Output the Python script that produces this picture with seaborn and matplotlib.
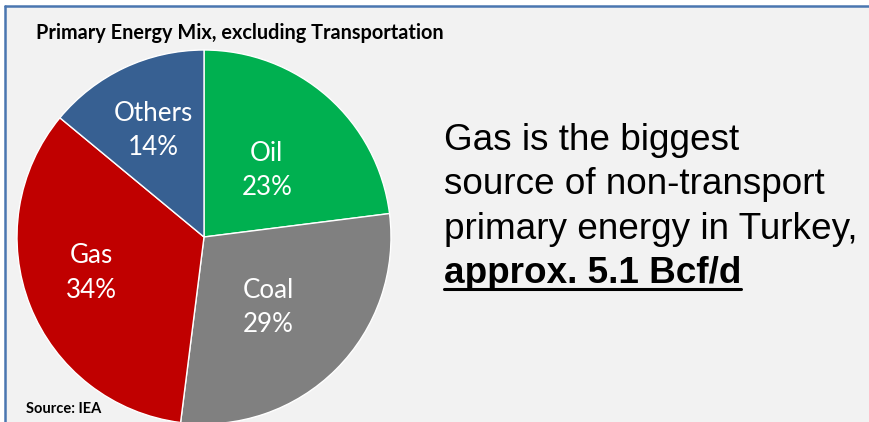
import numpy as np
import matplotlib
matplotlib.use("Agg")
import matplotlib.pyplot as plt
import seaborn as sns
from matplotlib.patches import Rectangle
from matplotlib.lines import Line2D

# Primary energy mix (excluding transportation), share in percent
sources = ["Oil", "Coal", "Gas", "Others"]
shares = [23, 29, 34, 14]
colors = ["#00b050", "#808080", "#c00000", "#376092"]
# label placement: fraction of the radius and a small angular nudge (degrees)
label_radius = [0.49, 0.51, 0.63, 0.63]
label_nudge = [-1.8, -2.8, -3.8, 0.0]

title = "Primary Energy Mix, excluding Transportation"
source_note = "Source: IEA"
callout_lines = ["Gas is the biggest", "source of non-transport",
                 "primary energy in Turkey,"]
callout_bold = "approx. 5.1 Bcf/d"

sns.set_theme(style="white")
plt.rcParams["font.family"] = ["Lato", "DejaVu Sans"]

W, H = 869, 422
fig = plt.figure(figsize=(W / 100, H / 100), dpi=100, facecolor="white")


def fx(px):
    return px / W


def fy(py):
    return 1 - py / H


# panel background with a blue frame on top and left
fig.add_artist(Rectangle((fx(5), fy(440)), fx(900), 434 / H,
                         transform=fig.transFigure, facecolor="#f2f2f2",
                         edgecolor="none", zorder=0))
fig.add_artist(Line2D([fx(5), fx(5)], [fy(6), fy(430)], transform=fig.transFigure,
                      color="#4a76b0", lw=1.8, zorder=1))
fig.add_artist(Line2D([fx(5), fx(880)], [fy(6), fy(6)], transform=fig.transFigure,
                      color="#4a76b0", lw=1.8, zorder=1))

# pie axes: centre at (204, 237) px, radius 187 px
cx, cy, r = 204, 237, 187
ax = fig.add_axes([fx(cx - r), fy(cy + r), 2 * r / W, 2 * r / H])
ax.set_facecolor("none")
wedges, _ = ax.pie(shares, colors=colors, startangle=90, counterclock=False,
                   radius=1.0, wedgeprops=dict(edgecolor="white", linewidth=1.0))
ax.set_xlim(-1, 1)
ax.set_ylim(-1, 1)
ax.set_aspect("equal")
ax.axis("off")
for w in wedges:
    w.set_clip_on(False)

for w, name, val, rr, nd in zip(wedges, sources, shares, label_radius, label_nudge):
    mid = np.deg2rad((w.theta1 + w.theta2) / 2 + nd)
    ax.text(rr * np.cos(mid), rr * np.sin(mid), f"{name}\n{val}%",
            ha="center", va="center", color="white", fontsize=18.7,
            linespacing=1.47)

fig.text(fx(36), fy(39), title, fontsize=14.3, fontweight="bold",
         color="black", ha="left", va="baseline")
fig.text(fx(26), fy(413), source_note, fontsize=10.5, fontweight="bold",
         color="black", ha="left", va="baseline")

# callout on the right
base_y = [150, 194.5, 239]
for line, by in zip(callout_lines, base_y):
    fig.text(fx(444), fy(by), line, fontsize=26.6, family="Liberation Sans",
             color="black", ha="left", va="baseline")
bold_txt = fig.text(fx(444), fy(283), callout_bold, fontsize=26.6,
                    family="Liberation Sans", fontweight="bold",
                    color="black", ha="left", va="baseline")

fig.canvas.draw()
bb = bold_txt.get_window_extent(renderer=fig.canvas.get_renderer())
fig.add_artist(Line2D([bb.x0 / W, bb.x1 / W], [fy(288.5), fy(288.5)],
                      transform=fig.transFigure, color="black", lw=2.2))

fig.savefig("out.png", dpi=100, facecolor="white")
